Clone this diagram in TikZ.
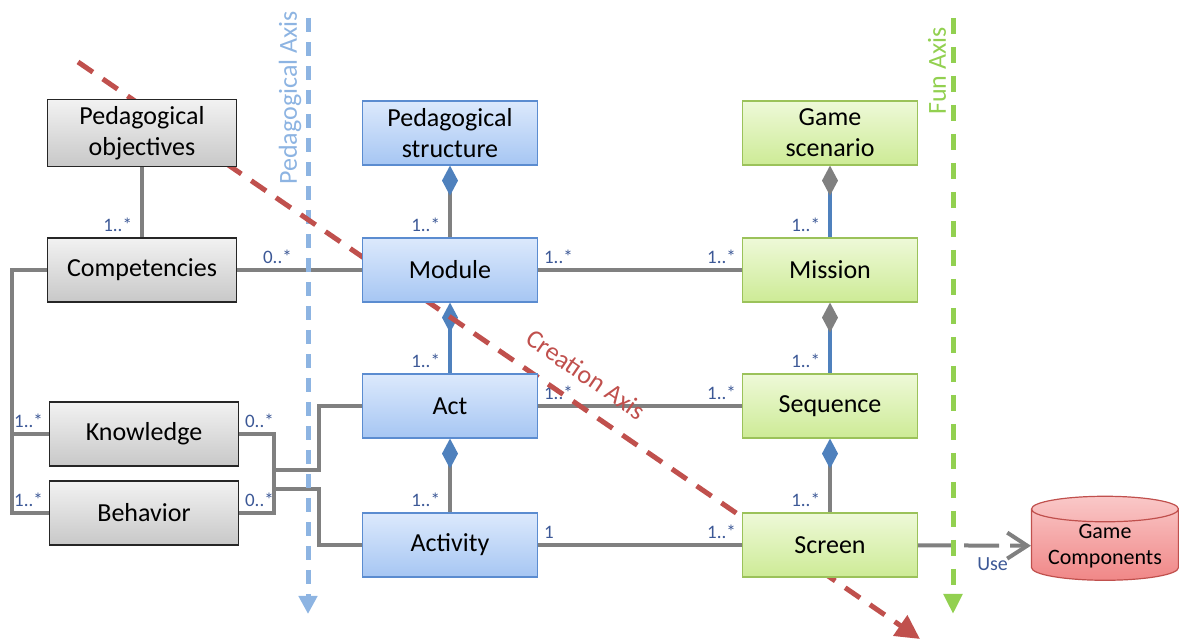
\documentclass[tikz,border=0pt]{standalone}
\usepackage{fontspec}
\setmainfont{Carlito}
\usepackage{xcolor}
\definecolor{umlgray}{RGB}{128,128,128}
\definecolor{umlblue}{RGB}{79,129,189}
\definecolor{multblue}{RGB}{60,88,150}
\definecolor{pedaxis}{RGB}{141,180,226}
\definecolor{funaxis}{RGB}{146,208,80}
\definecolor{creaxis}{RGB}{192,80,77}
\definecolor{boxblueT}{RGB}{220,233,252}
\definecolor{boxblueB}{RGB}{166,198,243}
\definecolor{boxblueD}{RGB}{91,140,208}
\definecolor{boxgreenT}{RGB}{238,249,216}
\definecolor{boxgreenB}{RGB}{205,235,150}
\definecolor{boxgreenD}{RGB}{155,194,90}
\definecolor{boxgrayT}{RGB}{242,242,242}
\definecolor{boxgrayB}{RGB}{200,200,200}
\definecolor{boxgrayD}{RGB}{38,38,38}
\definecolor{cylT}{RGB}{250,200,200}
\definecolor{cylB}{RGB}{240,135,135}
\definecolor{cylD}{RGB}{192,80,77}
\usetikzlibrary{arrows.meta,positioning,shapes.geometric,backgrounds}

\begin{document}
\begin{tikzpicture}[x=0.5pt, y=-0.5pt,
    cls/.style={rectangle, minimum height=32pt, align=center,
                font=\fontsize{13}{15.5}\selectfont, line width=0.6pt},
    clsG/.style={cls, draw=boxgrayD, top color=boxgrayT, bottom color=boxgrayB,
                 minimum width=94.5pt},
    clsB/.style={cls, draw=boxblueD, top color=boxblueT, bottom color=boxblueB,
                 minimum width=87.5pt},
    clsN/.style={cls, draw=boxgreenD, top color=boxgreenT, bottom color=boxgreenB,
                 minimum width=87.5pt},
    conn/.style={draw=umlgray, line width=2pt},
    bconn/.style={draw=umlblue, line width=2pt},
    mult/.style={font=\fontsize{9.5}{11}\selectfont, text=multblue, inner sep=2pt},
    axlab/.style={font=\fontsize{13}{15}\selectfont, inner sep=0pt},
    compB/.style={{Diamond[length=15pt, width=8pt, color=umlblue]}-},
    compG/.style={{Diamond[length=15pt, width=8pt, color=umlgray]}-}
  ]
    \useasboundingbox (0,0) rectangle (1179,641);

    % Learner side
    \node[clsG] (pobj)  at (142,133) {Pedagogical\\objectives};
    \node[clsG] (comp)  at (142,270) {Competencies};
    \node[clsG] (know)  at (144,434) {Knowledge};
    \node[clsG] (behav) at (144,513) {Behavior};

    % Pedagogical side
    \node[clsB] (pstruct)  at (450,133) {Pedagogical\\structure};
    \node[clsB] (module)   at (450,270) {Module};
    \node[clsB] (act)      at (450,406) {Act};
    \node[clsB] (activity) at (450,545) {Activity};

    % Game side
    \node[clsN] (gscen)    at (830,133) {Game\\scenario};
    \node[clsN] (mission)  at (830,270) {Mission};
    \node[clsN] (sequence) at (830,406) {Sequence};
    \node[clsN] (screen)   at (830,545) {Screen};

    \node[cylinder, shape border rotate=90, aspect=0.22, draw=cylD, line width=0.6pt,
          top color=cylT, bottom color=cylB, minimum width=73.5pt, minimum height=42pt,
          inner sep=0.5pt, align=center, font=\fontsize{11}{13}\selectfont] (gcomp)
          at (1105,546) {Game\\Components};

    % Bus points
    \coordinate (lbus)   at (12,270);
    \coordinate (kbbus)  at (274,470);
    \coordinate (kbbus2) at (274,489);
    \coordinate (actbus) at (319,470);

    \begin{scope}[on background layer]
      % Associations
      \draw[conn] (pobj) -- node[mult, pos=1, anchor=south east, xshift=-2pt] {1..*} (comp);
      \draw[conn] (comp) -- node[mult, pos=0, anchor=south west, xshift=10pt] {0..*} (module);
      \draw[conn] (comp.west) -- (lbus) |- node[mult, pos=1, anchor=south east] {1..*} (behav.west);
      \draw[conn] (know.west) -- node[mult, pos=0, anchor=south east] {1..*} (know.west -| lbus);
      \draw[conn] (know.east) -- node[mult, pos=0, anchor=south west] {0..*} (know.east -| kbbus)
                  -- (behav.east -| kbbus) -- node[mult, pos=1, anchor=south west] {0..*} (behav.east);
      \draw[conn] (kbbus) -| (actbus |- act.west) -- (act.west);
      \draw[conn] (kbbus2) -| (actbus |- activity.west) -- (activity.west);

      % Compositions
      \draw[conn, compB] (pstruct) -- node[mult, pos=1, anchor=south east, xshift=-2pt] {1..*} (module);
      \draw[bconn, compB] (module) -- node[mult, pos=1, anchor=south east, xshift=-2pt] {1..*} (act);
      \draw[conn, compB] (act) -- node[mult, pos=1, anchor=south east, xshift=-2pt] {1..*} (activity);
      \draw[bconn, compG] (gscen) -- node[mult, pos=1, anchor=south east, xshift=-2pt] {1..*} (mission);
      \draw[bconn, compG] (mission) -- node[mult, pos=1, anchor=south east, xshift=-2pt] {1..*} (sequence);
      \draw[conn, compB] (sequence) -- node[mult, pos=1, anchor=south east, xshift=-2pt] {1..*} (screen);

      % Pedagogical / game links
      \draw[conn] (module) -- node[mult, pos=0, anchor=south west] {1..*}
                              node[mult, pos=1, anchor=south east] {1..*} (mission);
      \draw[conn] (act) -- node[mult, pos=0, anchor=south west] {1..*}
                           node[mult, pos=1, anchor=south east] {1..*} (sequence);
      \draw[conn] (activity) -- node[mult, pos=0, anchor=south west] {1}
                                node[mult, pos=1, anchor=south east] {1..*} (screen);
      \draw[conn, dash pattern=on 17.5pt off 5.5pt,
            -{Straight Barb[length=10pt, width=13pt]}] (screen)
            -- node[mult, pos=0.66, below=3pt, font=\fontsize{10}{12}\selectfont] {Use} (gcomp);
    \end{scope}

    \begin{scope}[on background layer]
      % Axes
      \coordinate (pa0) at (308,18);
      \coordinate (pa1) at (308,614);
      \coordinate (fa0) at (953,18);
      \coordinate (fa1) at (953,614);
      \coordinate (ca0) at (78,62);
      \coordinate (ca1) at (920,639);
      \draw[pedaxis, line width=2.5pt, dash pattern=on 7pt off 5pt,
            -{Triangle[length=9pt, width=9pt]}] (pa0) -- (pa1);
      \draw[funaxis, line width=2.5pt, dash pattern=on 8pt off 6.5pt,
            -{Triangle[length=10pt, width=9pt]}] (fa0) -- (fa1);
      \draw[creaxis, line width=2.5pt, dash pattern=on 9pt off 6pt,
            -{Triangle[length=12pt, width=12pt]}] (ca0)
            -- node[axlab, pos=0.584, sloped, above=9pt, text=creaxis] {Creation Axis} (ca1);
      \node[axlab, text=pedaxis, rotate=90] (palab) at (290,98) {Pedagogical Axis};
      \node[axlab, text=funaxis, rotate=90] (falab) at (937,71) {Fun Axis};
    \end{scope}
  \end{tikzpicture}
\end{document}
